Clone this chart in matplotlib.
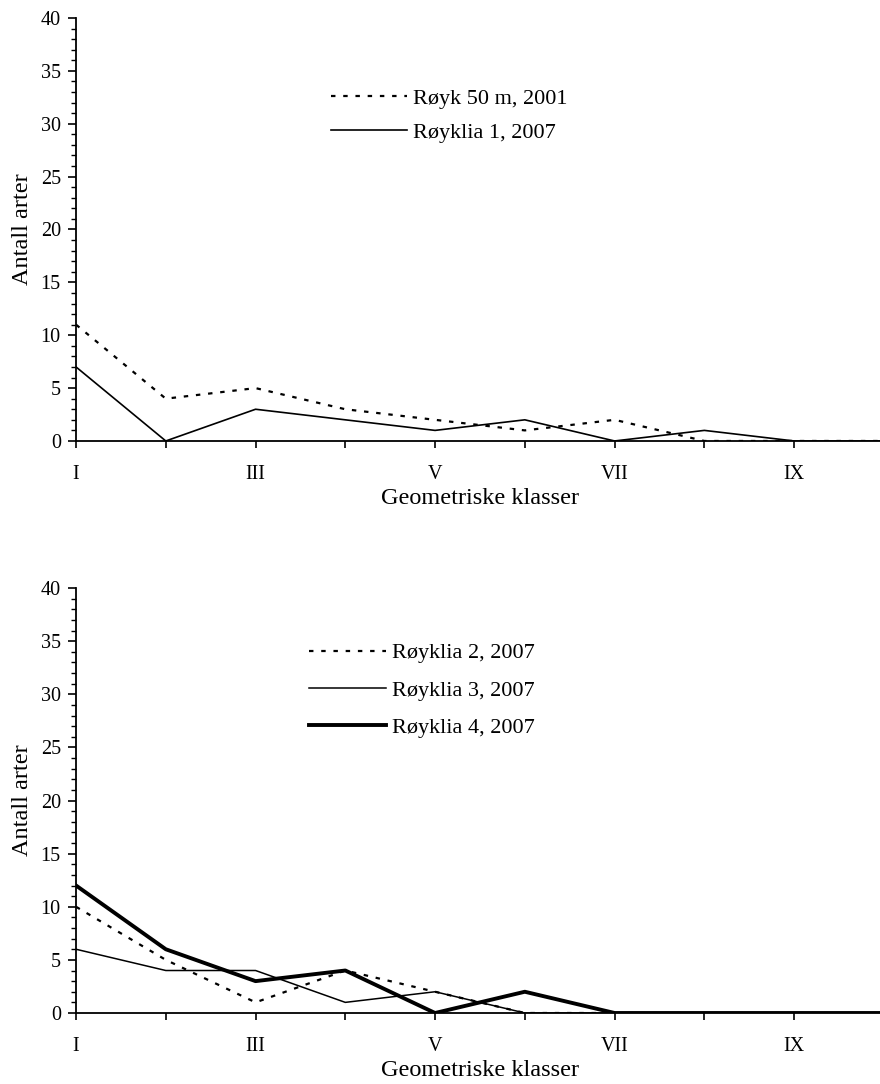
import matplotlib
matplotlib.use('Agg')
import matplotlib.pyplot as plt
from matplotlib.ticker import MultipleLocator

plt.rcParams['font.family'] = ['Liberation Serif', 'DejaVu Serif']

klasser = ['I', 'II', 'III', 'IV', 'V', 'VI', 'VII', 'VIII', 'IX', 'X']

# top panel
royk50_2001 = [11, 4, 5, 3, 2, 1, 2, 0, 0, 0]
royklia1_2007 = [7, 0, 3, 2, 1, 2, 0, 1, 0, 0]

# bottom panel
royklia2_2007 = [10, 5, 1, 4, 2, 0, 0, 0, 0, 0]
royklia3_2007 = [6, 4, 4, 1, 2, 0, 0, 0, 0, 0]
royklia4_2007 = [12, 6, 3, 4, 0, 2, 0, 0, 0, 0]

fig = plt.figure(figsize=(8.8, 10.84), dpi=100)
ax1 = fig.add_axes([0.0864, 0.5932, 0.918, 0.3902])
ax2 = fig.add_axes([0.0864, 0.0655, 0.918, 0.3920])

x = list(range(len(klasser)))
dots = (0, (2, 3.5))


def style(ax, xlab_y):
    for s in ['top', 'right']:
        ax.spines[s].set_visible(False)
    ax.spines['left'].set_linewidth(1.3)
    ax.spines['bottom'].set_linewidth(1.3)
    ax.set_xlim(0, 9)
    ax.set_ylim(0, 40)
    ax.set_xticks(x)
    ax.set_xticklabels([k if i % 2 == 0 else '' for i, k in enumerate(klasser)])
    ax.yaxis.set_major_locator(MultipleLocator(5))
    ax.yaxis.set_minor_locator(MultipleLocator(1))
    ax.tick_params(axis='y', which='major', length=6, width=1.2, labelsize=14.5, pad=5)
    ax.tick_params(axis='y', which='minor', length=3.5, width=1.0)
    ax.tick_params(axis='x', which='major', length=5, width=1.2, labelsize=14.5, pad=12.5)
    ax.set_ylabel('Antall arter', fontsize=17.5)
    ax.yaxis.set_label_coords(-0.053, 0.5)
    ax.set_xlabel('Geometriske klasser', fontsize=17.5)
    ax.xaxis.set_label_coords(0.5, xlab_y)


ax1.plot(x, royk50_2001, color='black', lw=1.6, linestyle=dots, label='Røyk 50 m, 2001')
ax1.plot(x, royklia1_2007, color='black', lw=1.2, label='Røyklia 1, 2007')
style(ax1, -0.112)
ax1.legend(loc='upper left', bbox_to_anchor=(0.316, 0.833), frameon=False,
           fontsize=16, handlelength=3.4, handletextpad=0.27,
           labelspacing=0.58, borderpad=0, borderaxespad=0)

ax2.plot(x, royklia2_2007, color='black', lw=1.6, linestyle=dots, label='Røyklia 2, 2007')
ax2.plot(x, royklia3_2007, color='black', lw=1.1, label='Røyklia 3, 2007')
ax2.plot(x, royklia4_2007, color='black', lw=2.8, label='Røyklia 4, 2007')
style(ax2, -0.110)
ax2.legend(loc='upper left', bbox_to_anchor=(0.288, 0.871), frameon=False,
           fontsize=16, handlelength=3.5, handletextpad=0.27,
           labelspacing=0.75, borderpad=0, borderaxespad=0)

plt.savefig('out.png', dpi=100)
